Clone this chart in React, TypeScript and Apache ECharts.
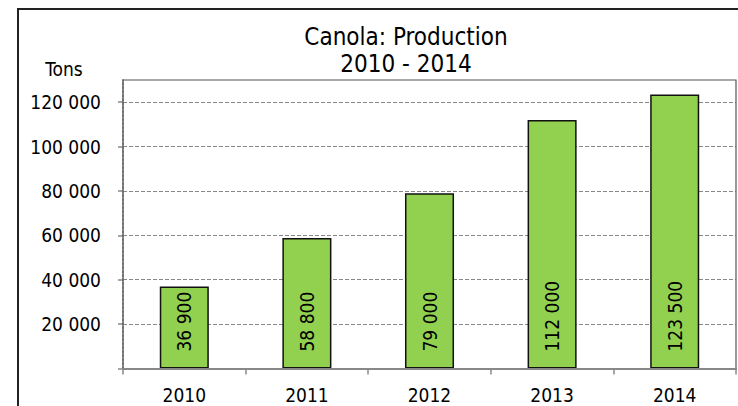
import React, { useEffect, useRef } from "react";
import * as echarts from "echarts";

const categories = ["2010", "2011", "2012", "2013", "2014"];
const production = [36900, 58800, 79000, 112000, 123500];
const titleLines = ["Canola: Production", "2010 - 2014"];
const yAxisName = "Tons";

const FONT = "'DejaVu Sans Condensed', 'DejaVu Sans', Tahoma, sans-serif";
const fmt = (v: number) => String(v).replace(/\B(?=(\d{3})+(?!\d))/g, " ");

export default function App() {
  const ref = useRef<HTMLDivElement>(null);
  useEffect(() => {
    document.body.style.margin = "0";
    const chart = echarts.init(ref.current!, null, { renderer: "svg" });
    chart.setOption({
      animation: false,
      backgroundColor: "#ffffff",
      textStyle: { fontFamily: FONT },
      graphic: [
        {
          type: "rect",
          shape: { x: 18, y: 9, width: 800, height: 500 },
          style: { fill: "none", stroke: "#222", lineWidth: 2 },
          silent: true,
        },
        {
          type: "text",
          x: 406,
          y: 37,
          style: {
            text: titleLines[0],
            fontFamily: FONT,
            fontSize: 24,
            fill: "#000",
            align: "center",
            verticalAlign: "middle",
          },
        },
        {
          type: "text",
          x: 406,
          y: 64,
          style: {
            text: titleLines[1],
            fontFamily: FONT,
            fontSize: 24,
            fill: "#000",
            align: "center",
            verticalAlign: "middle",
          },
        },
        {
          type: "text",
          x: 64,
          y: 69,
          style: {
            text: yAxisName,
            fontFamily: FONT,
            fontSize: 19,
            fill: "#000",
            align: "center",
            verticalAlign: "middle",
          },
        },
      ],
      grid: {
        left: 123,
        right: 2,
        top: 80,
        bottom: 37.5,
        show: true,
        z: 10,
        backgroundColor: "transparent",
        borderColor: "#555",
        borderWidth: 1.2,
      },
      xAxis: [
        {
          type: "category",
          data: categories,
          z: 12,
          axisLine: { show: true, lineStyle: { color: "#888", width: 2 } },
          axisTick: { show: true, length: 6, lineStyle: { color: "#888", width: 1.5 } },
          axisLabel: { color: "#000", fontSize: 19, margin: 17, fontFamily: FONT },
          splitLine: { show: false },
        },
      ],
      yAxis: [
        {
          type: "value",
          min: 0,
          max: 130000,
          interval: 20000,
          z: 3,
          axisLine: { show: true, onZero: false, lineStyle: { color: "#999", width: 2, type: [1.5, 2.5] } },
          axisTick: { show: true, length: 5, lineStyle: { color: "#888", width: 1.5 } },
          axisLabel: {
            color: "#000",
            fontSize: 19,
            margin: 22,
            fontFamily: FONT,
            showMaxLabel: false,
            formatter: (v: number) => (v === 0 || v > 120000 ? "" : fmt(v)),
          },
          splitLine: {
            show: true,
            showMaxLine: false,
            showMinLine: false,
            lineStyle: { color: "#888", width: 1, type: [4, 2] },
          },
        },
      ],
      series: [
        {
          type: "bar",
          data: production,
          barWidth: "40%",
          z: 4,
          itemStyle: { color: "#92D050", borderColor: "#111", borderWidth: 1.5 },
          label: {
            show: true,
            position: "insideBottom",
            rotate: 90,
            align: "left",
            verticalAlign: "middle",
            distance: 17,
            fontSize: 19,
            color: "#000",
            fontFamily: FONT,
            formatter: (p: any) => fmt(p.value),
          },
        },
      ],
    });
    return () => chart.dispose();
  }, []);
  return <div ref={ref} style={{ position: "absolute", left: 0, top: 0, width: 738, height: 406 }} />;
}
